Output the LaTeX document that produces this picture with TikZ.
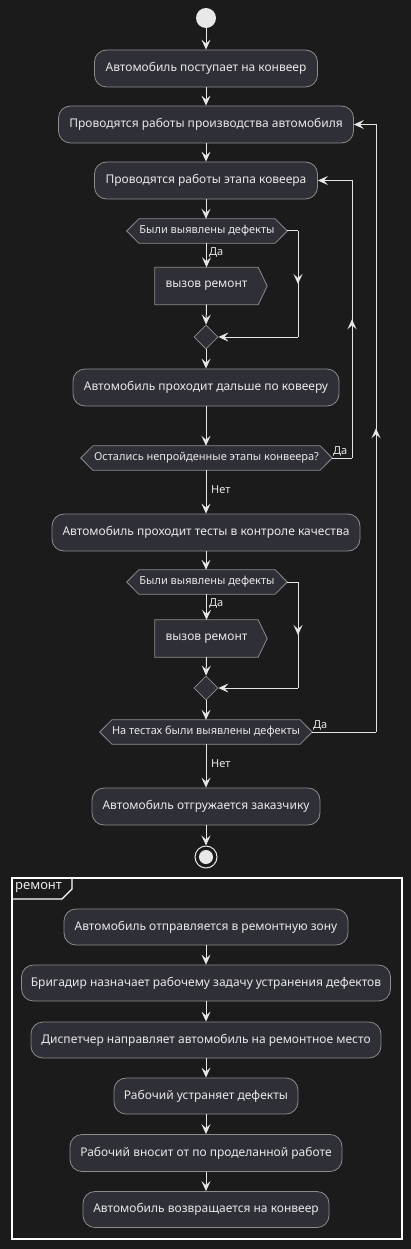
\documentclass[tikz,border=0pt]{standalone}
\usepackage{fontspec}
\setmainfont{Noto Sans}
\usetikzlibrary{arrows.meta,shapes.geometric,decorations.markings}
\definecolor{bg}{HTML}{1B1B1B}
\definecolor{nodefill}{HTML}{2F2F37}
\definecolor{nodeborder}{HTML}{8C8C8C}
\definecolor{txt}{HTML}{E8E8E8}
\definecolor{lin}{HTML}{E6E6E6}
\tikzset{
  arr/.tip={Stealth[length=10pt,width=9pt,inset=4pt]},
  act/.style={draw=nodeborder, fill=nodefill, rounded corners=12pt, text=txt,
    font=\fontsize{12}{14}\selectfont, minimum height=37pt, inner sep=0pt, line width=0.8pt},
  dectext/.style={text=txt, font=\fontsize{11}{13}\selectfont, minimum height=24pt, inner sep=0pt},
  sendtext/.style={text=txt, font=\fontsize{12}{14}\selectfont, minimum height=37pt, inner sep=0pt},
  shapeline/.style={draw=nodeborder, fill=nodefill, line width=0.8pt},
  merge/.style={diamond, draw=nodeborder, fill=nodefill, minimum width=24pt, minimum height=24pt, inner sep=0pt, line width=0.8pt},
  conn/.style={draw=lin, line width=1pt, -arr, fill=none},
  plain/.style={draw=lin, line width=1pt},
  midup/.style={draw=lin, line width=1pt, postaction={decorate},
    decoration={markings, mark=at position 0.5 with {\arrow[lin]{arr}}}},
  elabel/.style={text=txt, font=\fontsize{11}{13}\selectfont, inner sep=0pt},
}
\newcommand{\hexagon}[2]{% node name, indent
  \path[shapeline] (#1.west) -- ([xshift=#2]#1.north west) -- ([xshift=-#2]#1.north east)
    -- (#1.east) -- ([xshift=-#2]#1.south east) -- ([xshift=#2]#1.south west) -- cycle;}
\newcommand{\sendshape}[2]{% node name, pointer
  \path[shapeline] (#1.north west) -- (#1.north east) -- ([xshift=#2]#1.east)
    -- (#1.south east) -- (#1.south west) -- cycle;}
\begin{document}
\begin{tikzpicture}[x=1pt,y=-1pt]
\useasboundingbox (0,0) rectangle (411,1249);
\fill[bg] (0,0) rectangle (411,1249);

% start
\node[circle, fill=txt, minimum size=20pt, inner sep=0pt] (start) at (206,18) {};

\node[act, minimum width=223pt] (a1) at (206,68.5) {Автомобиль поступает на конвеер};
\node[act, minimum width=295pt] (a2) at (206,124.5) {Проводятся работы производства автомобиля};
\node[act, minimum width=223pt] (a3) at (206,180.5) {Проводятся работы этапа ковеера};

% decision 1
\node[dectext, minimum width=160pt] (d1) at (207,231) {};
\hexagon{d1}{12pt}
\node[dectext] at (207,231) {Были выявлены дефекты};
\node[sendtext, minimum width=103pt] (s1) at (206.5,286) {};
\sendshape{s1}{9pt}
\node[sendtext] at (206.5,286) {вызов ремонт};
\node[merge] (m1) at (206,337) {};

\node[act, minimum width=266pt] (a4) at (206,387.5) {Автомобиль проходит дальше по ковееру};

\node[dectext, minimum width=251pt] (d2) at (206.5,458) {};
\hexagon{d2}{12pt}
\node[dectext] at (206.5,458) {Остались непройденные этапы конвеера?};

\node[act, minimum width=308pt] (a5) at (206,532.5) {Автомобиль проходит тесты в контроле качества};

\node[dectext, minimum width=160pt] (d3) at (207,582) {};
\hexagon{d3}{12pt}
\node[dectext] at (207,582) {Были выявлены дефекты};
\node[sendtext, minimum width=103pt] (s2) at (206.5,638.5) {};
\sendshape{s2}{9pt}
\node[sendtext] at (206.5,638.5) {вызов ремонт};
\node[merge] (m2) at (206,688) {};

\node[dectext, minimum width=212pt] (d4) at (206,732) {};
\hexagon{d4}{12pt}
\node[dectext] at (206,732) {На тестах были выявлены дефекты};

\node[act, minimum width=228pt] (a6) at (206,806.5) {Автомобиль отгружается заказчику};

% end
\node[circle, draw=txt, line width=1pt, minimum size=22pt, inner sep=0pt] (end) at (206,857) {};
\fill[txt] (end.center) circle (7pt);

% partition
\draw[white, line width=1.4pt] (12,878) rectangle (402,1239);
\draw[white, line width=1.2pt] (12,899) -- (62,899) -- (72,889) -- (72,878);
\node[text=txt, font=\fontsize{13}{15}\selectfont, anchor=west, inner sep=0pt] (plabel) at (15,888) {ремонт};

\node[act, minimum width=284pt, minimum height=36pt] (r1) at (206,927) {Автомобиль отправляется в ремонтную зону};
\node[act, minimum width=369pt, minimum height=36pt] (r2) at (206,983) {Бригадир назначает рабочему задачу устранения дефектов};
\node[act, minimum width=350pt, minimum height=36pt] (r3) at (206,1040) {Диспетчер направляет автомобиль на ремонтное место};
\node[act, minimum width=184pt, minimum height=36pt] (r4) at (206,1096) {Рабочий устраняет дефекты};
\node[act, minimum width=272pt] (r5) at (206,1153) {Рабочий вносит от по проделанной работе};
\node[act, minimum width=246pt, minimum height=36pt] (r6) at (206,1209.5) {Автомобиль возвращается на конвеер};

% main connectors
\draw[conn] (start) -- (a1);
\draw[conn] (a1) -- (a2);
\draw[conn] (a2) -- (a3);
\draw[conn] (a3.south) -- (a3.south |- d1.north);
\draw[conn] (d1.south -| s1.north) -- (s1.north);
\node[elabel, anchor=west] (l1) at (209,252) {Да};
\draw[conn] (s1.south) -- (m1.north);
\coordinate (c1a) at (298,231);
\coordinate (c1b) at (298,337);
\draw[plain] (d1.east) -- (c1a);
\path[midup] (c1a) -- (c1b);
\draw[conn] (c1b) -- (m1.east);
\draw[conn] (m1.south) -- (a4.north);
\draw[conn] (a4.south) -- (a4.south |- d2.north);
\draw[conn] (d2.south -| a5.north) -- (a5.north);
\node[elabel, anchor=west] (l2) at (211,490) {Нет};
% loop d2 -> a3
\coordinate (c2a) at (352,458);
\coordinate (c2b) at (352,180.5);
\draw[plain] (d2.east) -- (c2a);
\path[midup] (c2a) -- (c2b);
\draw[conn] (c2b) -- (a3.east);
\node[elabel, anchor=west] (l3) at (333,451) {Да};

\draw[conn] (a5.south) -- (a5.south |- d3.north);
\draw[conn] (d3.south -| s2.north) -- (s2.north);
\node[elabel, anchor=west] (l4) at (209,603) {Да};
\draw[conn] (s2.south) -- (m2.north);
\coordinate (c3a) at (298,582);
\coordinate (c3b) at (298,688);
\draw[plain] (d3.east) -- (c3a);
\path[midup] (c3a) -- (c3b);
\draw[conn] (c3b) -- (m2.east);
\draw[conn] (m2.south) -- (m2.south |- d4.north);
\draw[conn] (d4.south) -- (a6.north);
\node[elabel, anchor=west] (l5) at (211,764) {Нет};
% loop d4 -> a2
\coordinate (c4a) at (376,732);
\coordinate (c4b) at (376,124.5);
\draw[plain] (d4.east) -- (c4a);
\path[midup] (c4a) -- (c4b);
\draw[conn] (c4b) -- (a2.east);
\node[elabel, anchor=west] (l6) at (313,725) {Да};

\draw[conn] (a6) -- (end);

% partition connectors
\draw[conn] (r1) -- (r2);
\draw[conn] (r2) -- (r3);
\draw[conn] (r3) -- (r4);
\draw[conn] (r4) -- (r5);
\draw[conn] (r5) -- (r6);
\end{tikzpicture}
\end{document}
